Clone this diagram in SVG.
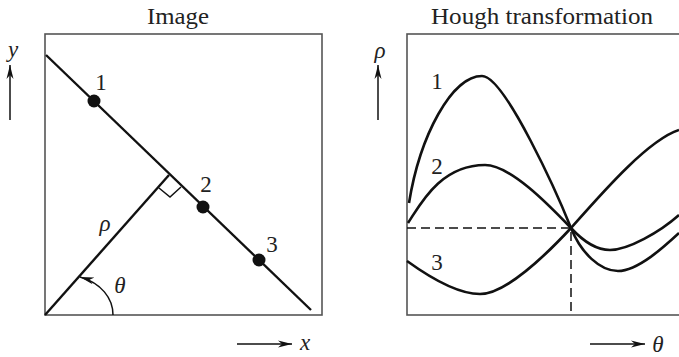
<svg xmlns="http://www.w3.org/2000/svg" width="679" height="357" viewBox="0 0 679 357">
<style>
.frame{fill:none;stroke:#555;stroke-width:1.6}
.ln{fill:none;stroke:#111;stroke-width:2.4}
.crv{fill:none;stroke:#111;stroke-width:2.6;stroke-linejoin:round}
.dash{fill:none;stroke:#111;stroke-width:1.5;stroke-dasharray:9,5}
.ax{fill:none;stroke:#111;stroke-width:1.5}
.t{font-family:"Liberation Serif","DejaVu Serif",serif;font-size:23px;fill:#222;text-anchor:middle}
.i{font-style:italic}
.dot{fill:#111}
</style>
<defs>
<marker id="ah" viewBox="-14 -5 16 10" markerWidth="16" markerHeight="10" refX="0" refY="0" orient="auto" markerUnits="userSpaceOnUse">
<path d="M0,0 L-14,-3.5 L-10,0 L-14,3.5 Z" fill="#111"/>
</marker>
</defs>
<text class="t" x="178" y="24" textLength="62" lengthAdjust="spacingAndGlyphs">Image</text>
<text class="t" x="542" y="24" textLength="222" lengthAdjust="spacingAndGlyphs">Hough transformation</text>
<g id="image-panel">
<rect class="frame" x="45" y="34" width="277" height="281"/>
</g>
<g id="hough-panel">
<rect class="frame" x="407" y="34" width="290" height="281"/>
</g>
<g id="connectors">
<line class="ln" x1="46" y1="55" x2="311" y2="310"/>
<line class="ln" x1="45" y1="315" x2="169" y2="175"/>
<path class="ax" d="M159,188 L170,197 L181,187"/>
<path class="ax" d="M113,315 C113,298 101,283 80,277" marker-end="url(#ah)"/>
<line class="ax" x1="10" y1="120" x2="10" y2="65" marker-end="url(#ah)"/>
<line class="ax" x1="237" y1="344" x2="292" y2="344" marker-end="url(#ah)"/>
<line class="ax" x1="378" y1="120" x2="378" y2="65" marker-end="url(#ah)"/>
<line class="ax" x1="590" y1="344" x2="645" y2="344" marker-end="url(#ah)"/>
<path class="dash" d="M407,228 H571 V315"/>
<path id="curve1" class="crv" d="M409,203 C420,135 452,76 482,76 C505,76 559,198 571,228 C581,253 600,271 618,271 C638,271 665,246 679,233"/>
<path id="curve2" class="crv" d="M408,223 C420,205 440,165 485,165 C510,165 548,204 571,228 C582,240 595,250 610,250 C628,250 660,232 679,215"/>
<path id="curve3" class="crv" d="M407,261 C425,274 455,294 480,294 C505,294 545,256 571,228 C602,193 648,140 679,130"/>
</g>
<g id="point1"><circle class="dot" cx="94" cy="101" r="6.5"/><text class="t" x="101" y="90">1</text></g>
<g id="point2"><circle class="dot" cx="203" cy="207" r="6.5"/><text class="t" x="206" y="192">2</text></g>
<g id="point3"><circle class="dot" cx="259" cy="260" r="6.5"/><text class="t" x="272" y="252">3</text></g>
<text class="t i" x="105" y="231">ρ</text>
<text class="t i" x="120" y="293">θ</text>
<text class="t i" x="13" y="57">y</text>
<text class="t i" x="305" y="350">x</text>
<text class="t i" x="380" y="58">ρ</text>
<text class="t i" x="658" y="352">θ</text>
<g id="label-c1"><text class="t" x="437" y="89">1</text></g>
<g id="label-c2"><text class="t" x="437" y="174">2</text></g>
<g id="label-c3"><text class="t" x="437" y="270">3</text></g>
</svg>
